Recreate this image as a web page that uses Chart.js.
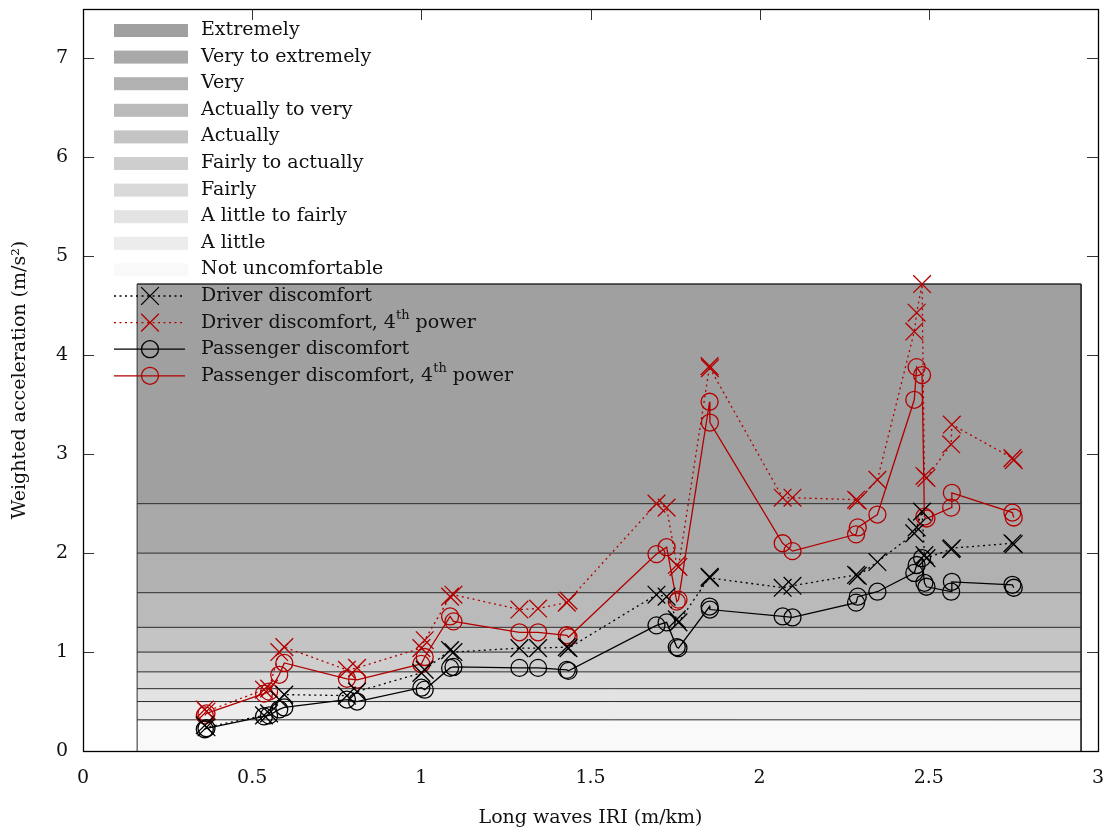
<!DOCTYPE html>
<html lang="en">
<head>
<meta charset="UTF-8">
<title>Weighted acceleration vs long waves IRI</title>
<script src="https://cdn.jsdelivr.net/npm/chart.js"></script>
<style>
    html, body { margin: 0; padding: 0; background: #fff; }
    #wrap { width: 1106px; height: 829px; }
</style>
</head>
<body>
<div id="wrap"><canvas id="chart" width="1106" height="829"></canvas></div>
<script>
// road sections: long waves IRI (m/km)
const iri = [0.36, 0.365, 0.535, 0.55, 0.58, 0.595, 0.78, 0.81, 1.0, 1.01, 1.085, 1.095,
    1.29, 1.345, 1.43, 1.435, 1.695, 1.725, 1.755, 1.76, 1.852, 1.853, 2.068, 2.097,
    2.285, 2.29, 2.348, 2.457, 2.464, 2.48, 2.487, 2.493, 2.566, 2.568, 2.747, 2.751];

// weighted acceleration (m/s^2)
const driver = [0.26, 0.24, 0.36, 0.38, 0.52, 0.57, 0.56, 0.60, 0.79, 0.82, 1.02, 1.00,
    1.04, 1.04, 1.05, 1.04, 1.58, 1.56, 1.33, 1.30, 1.76, 1.75, 1.65, 1.67,
    1.78, 1.77, 1.91, 2.20, 2.26, 2.42, 1.98, 1.95, 2.04, 2.05, 2.10, 2.09];
const driver4 = [0.42, 0.40, 0.62, 0.63, 1.00, 1.05, 0.82, 0.84, 1.04, 1.12, 1.56, 1.58,
    1.43, 1.44, 1.50, 1.52, 2.50, 2.46, 1.88, 1.86, 3.89, 3.87, 2.56, 2.56,
    2.54, 2.53, 2.74, 4.24, 4.43, 4.72, 2.78, 2.76, 3.10, 3.30, 2.96, 2.94];
const passenger = [0.22, 0.23, 0.35, 0.36, 0.42, 0.44, 0.52, 0.50, 0.64, 0.62, 0.84, 0.85,
    0.84, 0.84, 0.82, 0.81, 1.27, 1.30, 1.05, 1.04, 1.46, 1.43, 1.36, 1.35,
    1.50, 1.56, 1.61, 1.80, 1.88, 1.95, 1.70, 1.66, 1.61, 1.71, 1.68, 1.65];
const passenger4 = [0.36, 0.38, 0.58, 0.60, 0.77, 0.89, 0.73, 0.72, 0.88, 0.95, 1.36, 1.31,
    1.20, 1.20, 1.17, 1.15, 1.99, 2.06, 1.51, 1.53, 3.53, 3.32, 2.10, 2.02,
    2.19, 2.26, 2.39, 3.55, 3.88, 3.80, 2.37, 2.35, 2.46, 2.61, 2.41, 2.36];

// comfort levels, bottom to top (lower limit of each band)
const bandNames = ["Not uncomfortable", "A little", "A little to fairly", "Fairly",
    "Fairly to actually", "Actually", "Actually to very", "Very", "Very to extremely", "Extremely"];
const bandLower = [0, 0.315, 0.5, 0.63, 0.8, 1.0, 1.25, 1.6, 2.0, 2.5];
const bandRange = [0.16, 2.95];

const xTicks = [0, 0.5, 1, 1.5, 2, 2.5, 3];
const yTicks = [0, 1, 2, 3, 4, 5, 6, 7];

// styles
const bandColors = ["#f9f9f9", "#ececec", "#e3e3e3", "#d9d9d9", "#cecece",
    "#c4c4c4", "#bababa", "#b1b1b1", "#a9a9a9", "#a0a0a0"];
const RED = "#b20000";
const FONT = "DejaVu Serif";
const fontSize = 19;

const bandTop = Math.max(...driver, ...driver4, ...passenger, ...passenger4);

const bandDatasets = bandNames.map((name, i) => {
    const top = i < bandLower.length - 1 ? bandLower[i + 1] : bandTop;
    return {
        label: name,
        data: [{ x: bandRange[0], y: top }, { x: bandRange[1], y: top }],
        borderColor: "#2a2a2a",
        borderWidth: 1,
        backgroundColor: bandColors[i],
        fill: i === 0 ? "origin" : "-1",
        pointRadius: 0,
        order: 3,
        isBand: true
    };
});

const outline = {
    label: "",
    data: [{ x: bandRange[0], y: 0 }, { x: bandRange[0], y: bandTop },
           { x: bandRange[1], y: bandTop }, { x: bandRange[1], y: 0 }],
    borderColor: "#2a2a2a",
    borderWidth: 1,
    pointRadius: 0,
    fill: false,
    order: 2
};

function series(label, values, color, dashed, style) {
    return {
        label: label,
        data: iri.map((x, i) => ({ x: x, y: values[i] })),
        borderColor: color,
        borderWidth: 1.3,
        borderDash: dashed ? [2, 3.5] : [],
        backgroundColor: "transparent",
        pointStyle: style,
        pointRadius: style === "crossRot" ? 12.5 : 8.5,
        pointBorderWidth: 1.3,
        pointBorderColor: color,
        pointBackgroundColor: "transparent",
        fill: false,
        tension: 0,
        order: 0
    };
}

const seriesDatasets = [
    series("Driver discomfort", driver, "#000", true, "crossRot"),
    series("Driver discomfort, 4^th^ power", driver4, RED, true, "crossRot"),
    series("Passenger discomfort", passenger, "#000", false, "circle"),
    series("Passenger discomfort, 4^th^ power", passenger4, RED, false, "circle")
];

// inward ticks on all four sides, drawn under the bands
const innerTicks = {
    id: "innerTicks",
    beforeDatasetsDraw(chart) {
        const { ctx, chartArea: a, scales: { x, y } } = chart;
        ctx.save();
        ctx.strokeStyle = "#333";
        ctx.lineWidth = 1;
        ctx.beginPath();
        xTicks.forEach(v => {
            const px = Math.round(x.getPixelForValue(v)) + 0.5;
            ctx.moveTo(px, a.bottom); ctx.lineTo(px, a.bottom - 11);
            ctx.moveTo(px, a.top); ctx.lineTo(px, a.top + 11);
        });
        yTicks.forEach(v => {
            const py = Math.round(y.getPixelForValue(v)) + 0.5;
            ctx.moveTo(a.left, py); ctx.lineTo(a.left + 11, py);
            ctx.moveTo(a.right, py); ctx.lineTo(a.right - 11, py);
        });
        ctx.stroke();
        ctx.restore();
    },
    afterDraw(chart) {
        const { ctx, chartArea: a } = chart;
        ctx.save();
        ctx.strokeStyle = "#000";
        ctx.lineWidth = 1.3;
        ctx.strokeRect(Math.round(a.left) + 0.5, Math.round(a.top) + 0.5,
            Math.round(a.right - a.left), Math.round(a.bottom - a.top));
        ctx.restore();
    }
};

function drawMarker(ctx, style, r, cx, cy) {
    ctx.beginPath();
    if (style === "circle") {
        ctx.arc(cx, cy, r, 0, Math.PI * 2);
    } else {
        const d = r * Math.SQRT1_2;
        ctx.moveTo(cx - d, cy - d); ctx.lineTo(cx + d, cy + d);
        ctx.moveTo(cx + d, cy - d); ctx.lineTo(cx - d, cy + d);
    }
    ctx.stroke();
}

function drawLabel(ctx, text, x, y) {
    // "^...^" marks a superscript part
    const parts = text.split("^");
    parts.forEach((p, i) => {
        if (i % 2 === 1) {
            ctx.font = Math.round(fontSize * 0.7) + "px '" + FONT + "'";
            ctx.fillText(p, x, y - 7);
        } else {
            ctx.font = fontSize + "px '" + FONT + "'";
            ctx.fillText(p, x, y);
        }
        x += ctx.measureText(p).width;
    });
}

// legend inside the plot, top left
const insideLegend = {
    id: "insideLegend",
    afterDraw(chart) {
        const { ctx, chartArea: a } = chart;
        const x0 = a.left + 31, x1 = x0 + 74, tx = x1 + 13;
        const step = 26.6;
        let yy = a.top + 21;
        ctx.save();
        ctx.textBaseline = "middle";
        const bands = chart.data.datasets.filter(d => d.isBand).slice().reverse();
        bands.forEach(d => {
            ctx.fillStyle = d.backgroundColor;
            ctx.fillRect(x0, yy - 6, x1 - x0, 13);
            ctx.fillStyle = "#111";
            drawLabel(ctx, d.label, tx, yy);
            yy += step;
        });
        seriesDatasets.forEach(d => {
            ctx.strokeStyle = d.borderColor;
            ctx.lineWidth = d.borderWidth;
            ctx.setLineDash(d.borderDash);
            ctx.beginPath();
            ctx.moveTo(x0, yy); ctx.lineTo(x1 - 3, yy);
            ctx.stroke();
            ctx.setLineDash([]);
            drawMarker(ctx, d.pointStyle, d.pointRadius, (x0 + x1) / 2 - 1, yy);
            ctx.fillStyle = "#111";
            drawLabel(ctx, d.label, tx, yy);
            yy += step;
        });
        ctx.restore();
    }
};

const axisFont = { family: FONT, size: fontSize };

// keep the plot area fixed: no extra label padding from the scales
function fixBox(size, prop) {
    return s => {
        s[prop] = size;
        s.paddingTop = 0; s.paddingBottom = 0;
        s.paddingLeft = 0; s.paddingRight = 0;
    };
}

new Chart(document.getElementById("chart"), {
    type: "line",
    data: { datasets: [...bandDatasets, outline, ...seriesDatasets] },
    options: {
        responsive: false,
        animation: false,
        layout: { autoPadding: false, padding: { top: 9, right: 8, left: 0, bottom: 0 } },
        plugins: {
            legend: { display: false },
            tooltip: { enabled: false }
        },
        scales: {
            x: {
                type: "linear",
                min: 0,
                max: 3,
                afterFit: fixBox(78, "height"),
                afterBuildTicks(s) { s.ticks = xTicks.map(v => ({ value: v })); },
                grid: { display: false, drawTicks: false },
                border: { display: false },
                ticks: { color: "#111", font: axisFont, padding: 16, callback: v => String(v) },
                title: {
                    display: true,
                    text: "Long waves IRI (m/km)",
                    color: "#111",
                    font: axisFont,
                    padding: { top: 0, bottom: 0 }
                }
            },
            y: {
                type: "linear",
                min: 0,
                max: 7.5,
                afterFit: fixBox(83, "width"),
                afterBuildTicks(s) { s.ticks = yTicks.map(v => ({ value: v })); },
                grid: { display: false, drawTicks: false },
                border: { display: false },
                ticks: { color: "#111", font: axisFont, padding: 15, callback: v => String(v) },
                title: {
                    display: true,
                    text: "Weighted acceleration (m/s²)",
                    color: "#111",
                    font: axisFont,
                    padding: { top: 9, bottom: 0 }
                }
            }
        }
    },
    plugins: [innerTicks, insideLegend]
});
</script>
</body>
</html>
